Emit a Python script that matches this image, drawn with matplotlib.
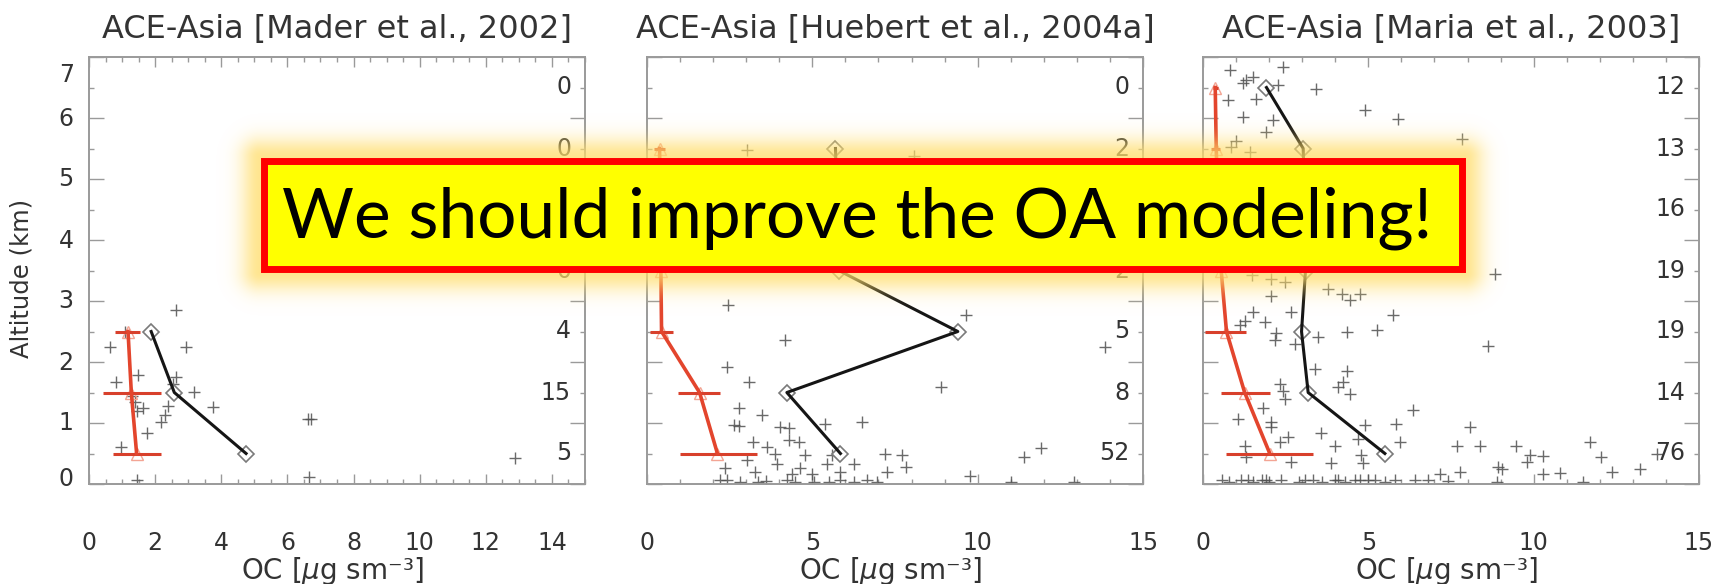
import numpy as np
import matplotlib.pyplot as plt
from matplotlib.patches import Rectangle
from matplotlib.ticker import MultipleLocator
from matplotlib.transforms import ScaledTranslation, blended_transform_factory

plt.rcParams['font.family'] = ['DejaVu Sans']
plt.rcParams['mathtext.fontset'] = 'dejavusans'

# altitude bin mid-points (km), top to bottom
alt = [6.5, 5.5, 4.5, 3.5, 2.5, 1.5, 0.5]

# ---- ACE-Asia, Mader et al. 2002 ----
mader_obs_x = [2.64, 2.94, 0.63, 1.10, 0.83, 1.49, 2.64, 2.54, 3.19, 3.74, 2.39, 1.39, 1.64,
               1.44, 2.29, 2.19, 1.30, 6.61, 6.71, 1.74, 0.98, 6.66, 1.44, 12.88]
mader_obs_y = [2.86, 2.25, 2.25, 2.50, 1.67, 1.78, 1.76, 1.64, 1.51, 1.27, 1.28, 1.34, 1.25,
               1.20, 1.13, 1.02, 1.45, 1.07, 1.07, 0.84, 0.61, 0.11, 0.06, 0.42]
mader_alt = [2.5, 1.5, 0.5]
mader_mean = [1.88, 2.58, 4.75]
mader_model = [1.18, 1.28, 1.44]
mader_model_lo = [0.78, 0.43, 0.73]
mader_model_hi = [1.54, 2.19, 2.19]
mader_n = [0, 0, 0, 0, 4, 15, 5]

# ---- ACE-Asia, Huebert et al. 2004a ----
huebert_obs_x = [3.02, 8.07, 2.46, 9.64, 4.18, 13.86, 2.41, 3.07, 8.88, 2.77, 3.47,
                 2.62, 2.77, 4.03, 4.28, 5.39, 6.50, 3.22, 3.63, 4.28, 4.59, 3.88, 4.79,
                 5.60, 7.21, 7.72, 3.02, 3.93, 5.45, 6.25, 7.82, 2.36, 4.64, 4.99, 5.85,
                 7.26, 3.27, 4.39, 11.40, 11.93, 9.77, 11.02, 12.90,
                 2.21, 2.41, 2.82, 3.37, 4.23, 4.48, 5.04, 5.85, 6.25, 6.66, 6.96, 3.60, 5.50]
huebert_obs_y = [5.47, 5.38, 2.93, 2.77, 2.36, 2.25, 1.92, 1.67, 1.59, 1.24, 1.13,
                 0.96, 0.95, 0.94, 0.92, 0.99, 1.01, 0.69, 0.61, 0.72, 0.69, 0.50, 0.47,
                 0.47, 0.50, 0.47, 0.39, 0.33, 0.33, 0.33, 0.28, 0.26, 0.26, 0.17, 0.20,
                 0.20, 0.20, 0.17, 0.44, 0.59, 0.13, 0.04, 0.04,
                 0.06, 0.06, 0.03, 0.03, 0.06, 0.03, 0.03, 0.06, 0.03, 0.06, 0.03, 0.05, 0.04]
huebert_alt = [5.5, 4.5, 3.5, 2.5, 1.5, 0.5]
huebert_mean = [5.70, 5.75, 5.80, 9.40, 4.23, 5.85]
huebert_model = [0.38, 0.40, 0.42, 0.44, 1.59, 2.13]
huebert_model_lo = [0.22, 0.25, 0.28, 0.09, 0.95, 1.00]
huebert_model_hi = [0.55, 0.56, 0.58, 0.80, 2.21, 3.32]
huebert_n = [0, 2, 2, 2, 5, 8, 52]

# ---- ACE-Asia, Maria et al. 2003 ----
maria_obs_x = [0.81, 2.42, 1.31, 1.51, 1.21, 2.27, 3.43, 0.76, 1.60, 1.21, 2.12, 4.89, 5.90,
               1.01, 0.86, 1.41, 1.92, 7.82,
               8.83, 1.48, 2.07, 2.47, 2.07, 3.78, 4.19, 4.74, 4.44, 1.51, 2.67, 5.75, 1.26,
               1.87, 1.11, 5.25, 4.34, 2.22, 2.17, 2.77, 3.48, 8.62, 3.38, 4.34, 4.24, 4.09,
               4.44, 2.32, 2.42, 2.47, 1.82, 6.35, 1.06, 2.07, 2.07, 3.58, 4.89, 5.85, 8.07,
               2.57, 2.32, 3.98, 4.69, 5.95, 1.26, 7.67, 8.37, 9.48, 4.79, 1.31, 2.67, 3.88,
               4.84, 8.93, 7.77, 7.16,
               11.70, 9.89, 10.29, 9.79, 12.05, 10.29, 10.79, 12.36, 13.21, 9.03, 11.50, 13.72,
               0.56, 1.16, 1.36, 1.77, 1.92, 2.37, 3.08, 3.33, 3.98, 4.08, 4.59, 4.74, 4.99,
               5.19, 5.80, 6.41, 6.81, 0.80, 1.50, 2.00, 2.90, 3.60, 4.30, 5.50, 7.40, 8.90]
maria_obs_y = [6.78, 6.83, 6.62, 6.67, 6.57, 6.54, 6.48, 6.29, 6.31, 6.02, 5.96, 6.13, 5.99,
               5.63, 5.52, 5.44, 5.77, 5.66,
               3.45, 3.42, 3.36, 3.31, 3.09, 3.20, 3.12, 3.12, 3.01, 2.82, 2.82, 2.77, 2.68,
               2.66, 2.60, 2.52, 2.49, 2.47, 2.36, 2.30, 2.41, 2.27, 1.89, 1.86, 1.67, 1.59,
               1.48, 1.64, 1.53, 1.40, 1.24, 1.21, 1.07, 1.02, 0.93, 0.83, 0.96, 0.99, 0.93,
               0.77, 0.69, 0.63, 0.73, 0.69, 0.62, 0.62, 0.62, 0.63, 0.47, 0.44, 0.36, 0.34,
               0.34, 0.28, 0.20, 0.17,
               0.69, 0.47, 0.46, 0.36, 0.45, 0.17, 0.18, 0.19, 0.24, 0.25, 0.04, 0.50,
               0.06, 0.06, 0.06, 0.06, 0.06, 0.06, 0.06, 0.06, 0.06, 0.06, 0.06, 0.06, 0.06,
               0.06, 0.06, 0.06, 0.06, 0.03, 0.03, 0.04, 0.03, 0.04, 0.03, 0.03, 0.05, 0.03]
maria_alt = alt
maria_mean = [1.92, 3.03, 3.08, 3.10, 2.98, 3.18, 5.50]
maria_model = [0.37, 0.40, 0.45, 0.55, 0.71, 1.26, 2.02]
maria_model_lo = [0.30, 0.25, 0.30, 0.30, 0.05, 0.55, 0.70]
maria_model_hi = [0.45, 0.50, 0.60, 0.80, 1.31, 2.02, 3.33]
maria_n = [12, 13, 16, 19, 19, 14, 76]

titles = ['ACE-Asia [Mader et al., 2002]',
          'ACE-Asia [Huebert et al., 2004a]',
          'ACE-Asia [Maria et al., 2003]']
panels = [
    (mader_obs_x, mader_obs_y, mader_alt, mader_mean, mader_model, mader_model_lo, mader_model_hi, mader_n),
    (huebert_obs_x, huebert_obs_y, huebert_alt, huebert_mean, huebert_model, huebert_model_lo, huebert_model_hi, huebert_n),
    (maria_obs_x, maria_obs_y, maria_alt, maria_mean, maria_model, maria_model_lo, maria_model_hi, maria_n),
]
x_major = [2, 5, 5]
x_minor = [0.5, 1, 1]

W, H = 1730, 584
fig = plt.figure(figsize=(W / 100, H / 100), dpi=100)

ax_top, ax_bot = 57, 484
lefts = [89, 647, 1203]
width = 496
grey = '#9a9a9a'
txt = '#333333'
# vertical nudge (px) of the left altitude labels, IDL-style end labels pulled inward
ylab_shift = {0: 7, 7: -15}

for i, (ox, oy, a, mean, mod, lo, hi, n) in enumerate(panels):
    ax = fig.add_axes([lefts[i] / W, 1 - ax_bot / H, width / W, (ax_bot - ax_top) / H])
    ax.set_xlim(0, 15)
    ax.set_ylim(0, 7)

    ax.plot(ox, oy, ls='none', marker='+', ms=9, mew=1.0, color='#505050', alpha=0.85)

    ax.plot(mean, a, color='#151515', lw=2.2, zorder=4)
    ax.plot(mean, a, ls='none', marker='D', ms=8, mfc='white', mec='#7a7a7a', mew=1.2, zorder=3)

    mod = np.array(mod)
    xerr = [mod - np.array(lo), np.array(hi) - mod]
    ax.errorbar(mod, a, xerr=xerr, fmt='none', ecolor='#d8402c', elinewidth=2.2, capsize=0, zorder=5)
    ax.plot(mod, a, color='#e3452d', lw=2.6, zorder=5)
    ax.plot(mod, a, ls='none', marker='^', ms=9, mfc='none', mec='#f3a594', mew=1.0, zorder=4)

    for s in ax.spines.values():
        s.set_color(grey)
        s.set_linewidth(1.4)
    ax.xaxis.set_major_locator(MultipleLocator(x_major[i]))
    ax.xaxis.set_minor_locator(MultipleLocator(x_minor[i]))
    ax.yaxis.set_major_locator(MultipleLocator(1))
    ax.yaxis.set_minor_locator(MultipleLocator(0.5))
    ax.tick_params(which='both', direction='in', top=True, right=True, color=grey, width=1.0)
    ax.tick_params(axis='y', which='major', length=10.8, pad=11)
    ax.tick_params(axis='y', which='minor', length=3.6)
    ax.tick_params(axis='x', which='major', length=7.5, pad=34)
    ax.tick_params(axis='x', which='minor', length=3.6)
    ax.tick_params(labelsize=17, labelcolor=txt)
    if i > 0:
        ax.tick_params(axis='y', labelleft=False)
    else:
        fig.canvas.draw()
        for tk, lab in zip(ax.get_yticks(), ax.get_yticklabels()):
            dy = ylab_shift.get(int(round(tk)), 2)
            lab.set_transform(lab.get_transform() + ScaledTranslation(0, dy / 100, fig.dpi_scale_trans))

    # number of samples per altitude bin, on the right
    tr = blended_transform_factory(ax.transAxes, ax.transData)
    for k, z in enumerate(alt):
        ax.text(1 - 14 / width, z, str(n[k]), transform=tr, ha='right', va='center',
                fontsize=17, color=txt)

    ax.set_title(titles[i], fontsize=23, color=txt, pad=14)
    ax.text(0.5 - 5 / width, (ax_bot - 579) / (ax_bot - ax_top), 'OC [$\\mu$g sm\u207b\u00b3]',
            transform=ax.transAxes, ha='center', va='baseline', fontsize=20, color=txt)

fig.text(22 / W, 1 - 278 / H, 'Altitude (km)', rotation=90, ha='center', va='center',
         fontsize=17.5, color=txt)

# call-out banner over the panels
ov = fig.add_axes([0, 0, 1, 1], zorder=10)
ov.patch.set_alpha(0)
bx0, bx1, by0, by1 = 260, 1465, 157, 272
gx = np.arange(bx0 - 70, bx1 + 70)
gy = np.arange(by0 - 70, by1 + 70)
X, Y = np.meshgrid(gx + 0.5, gy + 0.5)
dx = np.maximum(np.maximum(bx0 - X, X - bx1), 0)
dy = np.maximum(np.maximum(by0 - Y, Y - by1), 0)
d = np.hypot(dx, dy)
glow = np.zeros(X.shape + (4,))
glow[..., 0] = 1.0
glow[..., 1] = 0.87
glow[..., 2] = 0.42
glow[..., 3] = 0.75 * np.exp(-(d / 19.0) ** 2)
ov.imshow(glow, extent=(gx[0], gx[-1] + 1, gy[-1] + 1, gy[0]), interpolation='bilinear', aspect='auto')
ov.add_patch(Rectangle((bx0 + 3.5, by0 + 3.5), bx1 - bx0 - 7, by1 - by0 - 7,
                       facecolor='#ffff00', edgecolor='#ff0000', lw=5.0))
ov.text(857, 238, 'We should improve the OA modeling!', family='Lato', fontsize=50,
        ha='center', va='baseline', color='black')
ov.set_xlim(0, W)
ov.set_ylim(H, 0)
ov.axis('off')

fig.savefig('out.png', dpi=100)
